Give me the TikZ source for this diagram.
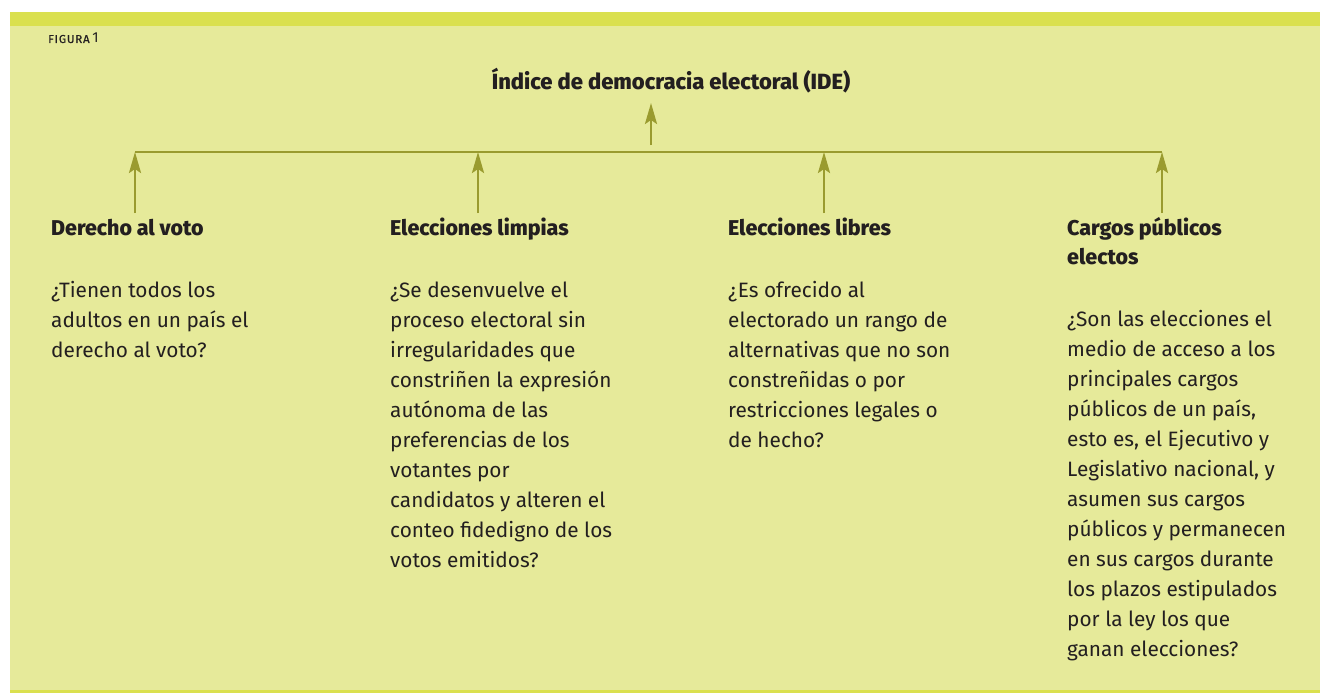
\documentclass[tikz,border=0pt]{standalone}
\usepackage{fontspec}
\setmainfont{Fira Sans}[BoldFont={Fira Sans ExtraBold}]
\usetikzlibrary{arrows.meta}
\definecolor{bgyellow}{HTML}{E6EA9A}
\definecolor{bandyellow}{HTML}{DAE04F}
\definecolor{olive}{HTML}{9A9B2F}
\definecolor{ink}{HTML}{231F20}
\newcommand\multiline[1]{\begin{tabular}[t]{@{}l@{}}#1\end{tabular}}
\tikzset{
  conn/.style={draw=olive, line width=2.4pt},
  arr/.style={conn, -{Stealth[length=21pt,width=12pt,inset=4pt]}},
  headtxt/.style={anchor=base west, inner sep=0pt, text=ink,
    font=\fontsize{21.4}{29}\selectfont\bfseries},
  bodytxt/.style={anchor=base west, inner sep=0pt, text=ink,
    font=\fontsize{20.8}{30}\selectfont},
}
\begin{document}
\begin{tikzpicture}[x=1pt,y=-1pt]
\useasboundingbox (0,0) rectangle (1320,693);
\fill[bgyellow] (10,26) rectangle (1320,690);
\fill[bandyellow] (10,12) rectangle (1320,26);
\fill[bandyellow] (10,690) rectangle (1320,693);

\node[anchor=base west, inner sep=0pt, text=ink] (fig) at (48,43)
  {{\fontsize{11.5}{12}\selectfont\addfontfeature{LetterSpace=7,FakeBold=0.6}FIGURA}\ {\fontsize{14.5}{14}\selectfont 1}};

\node[anchor=base, inner sep=0pt, text=ink, font=\fontsize{22}{24}\selectfont\bfseries] (title) at (671,89)
  {Índice de democracia electoral (IDE)};

\coordinate (top) at (651,103);
\coordinate (mid) at (651,145);
\coordinate (b1) at (135,152);
\coordinate (b2) at (478,152);
\coordinate (b3) at (824,152);
\coordinate (b4) at (1162,152);
\coordinate (s1) at (135,213);
\coordinate (s2) at (478,213);
\coordinate (s3) at (824,213);
\coordinate (s4) at (1162,213);

\draw[conn] (b1) -- (b4);
\draw[arr] (mid) -- (top);
\draw[arr] (s1) -- (b1);
\draw[arr] (s2) -- (b2);
\draw[arr] (s3) -- (b3);
\draw[arr] (s4) -- (b4);

\node[headtxt] (h1) at (51,235) {Derecho al voto};
\node[headtxt] (h2) at (390,235) {Elecciones limpias};
\node[headtxt] (h3) at (728,235) {Elecciones libres};
\node[headtxt] (h4) at (1067,235) {\multiline{Cargos públicos\\electos}};

\node[bodytxt] (t1) at (51,297) {\multiline{¿Tienen todos los\\adultos en un país el\\derecho al voto?}};
\node[bodytxt] (t2) at (390,297) {\multiline{¿Se desenvuelve el\\proceso electoral sin\\irregularidades que\\constriñen la expresión\\autónoma de las\\preferencias de los\\votantes por\\candidatos y alteren el\\conteo fidedigno de los\\votos emitidos?}};
\node[bodytxt] (t3) at (728,297) {\multiline{¿Es ofrecido al\\electorado un rango de\\alternativas que no son\\constreñidas o por\\restricciones legales o\\de hecho?}};
\node[bodytxt] (t4) at (1067,326) {\multiline{¿Son las elecciones el\\medio de acceso a los\\principales cargos\\públicos de un país,\\esto es, el Ejecutivo y\\Legislativo nacional, y\\asumen sus cargos\\públicos y permanecen\\en sus cargos durante\\los plazos estipulados\\por la ley los que\\ganan elecciones?}};
\end{tikzpicture}
\end{document}
